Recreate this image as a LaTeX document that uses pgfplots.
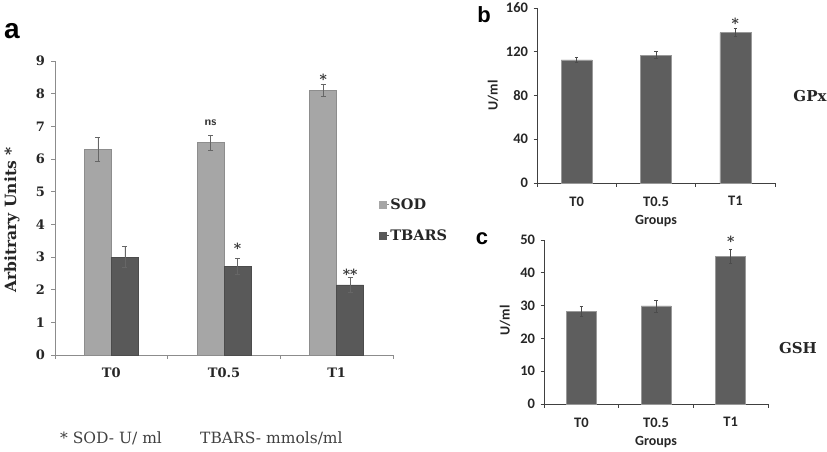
\documentclass[border=0pt]{standalone}
\usepackage{pgfplots}
\pgfplotsset{compat=1.18}
\usepackage{fontspec}
\setmainfont{DejaVu Serif}
\newfontfamily\calibri{Carlito}
\newfontfamily\arialf{Liberation Sans}
\definecolor{sodc}{HTML}{A6A6A6}
\definecolor{tbc}{HTML}{595959}
\definecolor{barc}{HTML}{5E5E5E}
\definecolor{axc}{HTML}{8C8C8C}
\begin{document}
\begin{tikzpicture}[x=1pt,y=1pt]
\path[use as bounding box] (0,0) rectangle (827,451);

% ---------- panel a ----------
\begin{axis}[
  at={(55pt,96pt)}, anchor=south west, scale only axis,
  width=338pt, height=294pt,
  xmin=-0.5, xmax=2.5, ymin=0, ymax=9,
  ybar=0pt, bar width=27pt,
  axis lines*=left,
  axis line style={draw=axc, line width=0.8pt},
  tick style={draw=axc, line width=0.8pt},
  tick align=outside, major tick length=3.5pt,
  xtick={-0.5,0.5,1.5,2.5}, xticklabels={},
  extra x ticks={0,1,2}, extra x tick labels={T0,T0.5,T1},
  extra x tick style={major tick length=0pt, tick label style={yshift=-9pt}},
  ytick={0,1,...,9},
  /pgf/number format/assume math mode=true,
  tick label style={font=\fontsize{13}{13}\selectfont\bfseries, text=black!85},
  yticklabel style={xshift=-3pt},
  ylabel={Arbitrary Units *},
  ylabel style={at={(axis description cs:-0.127,0.459)}, anchor=center,
     font=\fontsize{15.5}{15.5}\selectfont\bfseries, text=black!85},
  legend style={at={(0.958,0.459)}, anchor=west, draw=none, fill=none,
     font=\fontsize{14.5}{14.5}\selectfont\bfseries, text=black!85,
     row sep=17pt, inner sep=0pt, nodes={inner sep=1pt}},
  legend cell align=left,
  clip=false,
]
\addplot[fill=sodc, draw=sodc!85!black, line width=0.4pt,
  legend image code/.code={\path (0pt,0pt) -- (10pt,0pt); \fill[sodc] (0pt,-3.5pt) rectangle (7pt,3.5pt);},
  error bars/.cd, y dir=both, y explicit,
  error bar style={draw=black!60, line width=0.6pt},
  error mark options={rotate=90, mark size=2.5pt, draw=black!60, line width=0.6pt}]
  coordinates {(0,6.3) +- (0,0.37) (1,6.5) +- (0,0.24) (2,8.11) +- (0,0.19)};
\addplot[fill=tbc, draw=tbc!85!black, line width=0.4pt,
  legend image code/.code={\path (0pt,0pt) -- (10pt,0pt); \fill[tbc] (0pt,-3.5pt) rectangle (7pt,3.5pt);},
  error bars/.cd, y dir=both, y explicit,
  error bar style={draw=black!60, line width=0.6pt},
  error mark options={rotate=90, mark size=2.5pt, draw=black!60, line width=0.6pt}]
  coordinates {(0,3.0) +- (0,0.33) (1,2.71) +- (0,0.25) (2,2.15) +- (0,0.22)};
\legend{SOD,TBARS}
\node[font=\sffamily\bfseries\fontsize{12}{12}\selectfont, text=black!80] at ([xshift=-13.5pt]axis cs:1,7.12) {ns};
\node[font=\fontsize{14}{14}\selectfont\bfseries, text=black!80] at ([xshift=-13.5pt]axis cs:2,8.45) {*};
\node[font=\fontsize{14}{14}\selectfont\bfseries, text=black!80] at ([xshift=13.5pt]axis cs:1,3.28) {*};
\node[font=\fontsize{14}{14}\selectfont\bfseries, text=black!80] at ([xshift=13.5pt]axis cs:2,2.47) {**};
\end{axis}

% ---------- panel b ----------
\begin{axis}[
  at={(537pt,268pt)}, anchor=south west, scale only axis,
  width=238pt, height=175pt,
  xmin=-0.5, xmax=2.5, ymin=0, ymax=160,
  ybar=0pt, bar width=31pt,
  axis lines*=left,
  axis line style={draw=black!75, line width=0.7pt},
  tick style={draw=black!75, line width=0.7pt},
  tick align=outside, major tick length=3.5pt,
  xtick={-0.5,0.5,1.5,2.5}, xticklabels={},
  extra x ticks={0,1,2}, extra x tick labels={T0,T0.5,T1},
  extra x tick style={major tick length=0pt, tick label style={yshift=-10pt}},
  ytick={0,40,...,160},
  /pgf/number format/assume math mode=true,
  tick label style={font=\calibri\bfseries\fontsize{14.5}{14.5}\selectfont, text=black!85},
  yticklabel style={xshift=-2pt},
  xlabel={Groups},
  xlabel style={at={(axis description cs:0.5,-0.215)}, anchor=center,
     font=\calibri\bfseries\fontsize{14}{14}\selectfont, text=black!85},
  ylabel={U/ml},
  ylabel style={at={(axis description cs:-0.185,0.5)}, anchor=center,
     font=\calibri\bfseries\fontsize{14}{14}\selectfont, text=black!85},
  clip=false,
]
\addplot[fill=barc, draw=black!40, line width=0.5pt,
  error bars/.cd, y dir=both, y explicit,
  error bar style={draw=black!70, line width=0.6pt},
  error mark options={rotate=90, mark size=1.8pt, draw=black!70, line width=0.6pt}]
  coordinates {(0,112.5) +- (0,2.5) (1,117) +- (0,3) (2,137.5) +- (0,3.5)};
\node[font=\fontsize{14}{14}\selectfont\bfseries, text=black!80] at (axis cs:2,146) {*};
\end{axis}

% ---------- panel c ----------
\begin{axis}[
  at={(544pt,47pt)}, anchor=south west, scale only axis,
  width=224pt, height=164pt,
  xmin=-0.5, xmax=2.5, ymin=0, ymax=50,
  ybar=0pt, bar width=30pt,
  axis lines*=left,
  axis line style={draw=black!75, line width=0.7pt},
  tick style={draw=black!75, line width=0.7pt},
  tick align=outside, major tick length=3.5pt,
  xtick={-0.5,0.5,1.5,2.5}, xticklabels={},
  extra x ticks={0,1,2}, extra x tick labels={T0,T0.5,T1},
  extra x tick style={major tick length=0pt, tick label style={yshift=-10pt}},
  ytick={0,10,...,50},
  /pgf/number format/assume math mode=true,
  tick label style={font=\calibri\bfseries\fontsize{14.5}{14.5}\selectfont, text=black!85},
  yticklabel style={xshift=-2pt},
  xlabel={Groups},
  xlabel style={at={(axis description cs:0.5,-0.232)}, anchor=center,
     font=\calibri\bfseries\fontsize{14}{14}\selectfont, text=black!85},
  ylabel={U/ml},
  ylabel style={at={(axis description cs:-0.174,0.51)}, anchor=center,
     font=\calibri\bfseries\fontsize{14}{14}\selectfont, text=black!85},
  clip=false,
]
\addplot[fill=barc, draw=black!40, line width=0.5pt,
  error bars/.cd, y dir=both, y explicit,
  error bar style={draw=black!70, line width=0.6pt},
  error mark options={rotate=90, mark size=1.8pt, draw=black!70, line width=0.6pt}]
  coordinates {(0,28.3) +- (0,1.5) (1,29.9) +- (0,1.8) (2,45.1) +- (0,2.2)};
\node[font=\fontsize{14}{14}\selectfont\bfseries, text=black!80] at (axis cs:2,49.5) {*};
\end{axis}

% ---------- texts ----------
\node[font=\arialf\bfseries\fontsize{28}{28}\selectfont] at (12,420) {a};
\node[font=\arialf\bfseries\fontsize{22}{22}\selectfont] at (484,436) {b};
\node[font=\arialf\bfseries\fontsize{22}{22}\selectfont] at (482,212) {c};
\node[font=\fontsize{15}{15}\selectfont\bfseries, text=black!85] at (810,355) {GPx};
\node[font=\fontsize{15}{15}\selectfont\bfseries, text=black!85] at (798,103) {GSH};
\node[anchor=west, inner sep=0pt, font=\fontsize{15.5}{15.5}\selectfont, text=black!75] at (60,13) {* SOD- U/ ml};
\node[anchor=west, inner sep=0pt, font=\fontsize{15.5}{15.5}\selectfont, text=black!75] at (200,13) {TBARS- mmols/ml};
\end{tikzpicture}
\end{document}
